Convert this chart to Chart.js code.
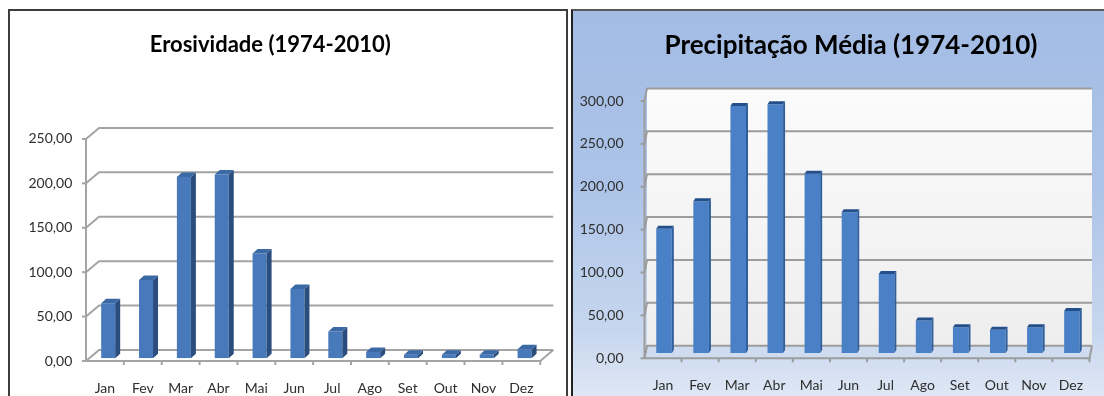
<!DOCTYPE html>
<html lang="pt">
<head>
<meta charset="utf-8">
<title>Erosividade e Precipitação Média (1974-2010)</title>
<script src="https://cdn.jsdelivr.net/npm/chart.js@4.4.1/dist/chart.umd.min.js"></script>
<style>
  html, body { margin: 0; padding: 0; background: #ffffff; }
  body { position: relative; width: 1104px; height: 396px; overflow: hidden; }
  #precBg {
    position: absolute; left: 571px; top: 9px; width: 533px; height: 400px;
    background: linear-gradient(180deg, #a3bce4 0%, #adc4e8 45%, #c6d6ee 80%, #e3eaf6 100%);
  }
  #erosChart { position: absolute; left: -3px; top: 11px; }
  #precChart { position: absolute; left: 573px; top: 11px; }
  .frame { position: absolute; pointer-events: none; z-index: 2; }
  #erosFrame { left: 8px; top: 9px; width: 556px; height: 400px; border: 2px solid #3c3c3c; border-bottom: none; }
  #precFrame { left: 571px; top: 9px; width: 531px; height: 400px; border-left: 2px solid #222222; border-top: 2px solid #5a5a5a; }
  canvas { display: block; }
</style>
</head>
<body>
<div id="precBg"></div>
<canvas id="erosChart" width="570" height="385"></canvas>
<canvas id="precChart" width="556" height="385"></canvas>
<div id="erosFrame" class="frame"></div>
<div id="precFrame" class="frame"></div>
<script>
// Meses do ano
const months = ['Jan', 'Fev', 'Mar', 'Abr', 'Mai', 'Jun', 'Jul', 'Ago', 'Set', 'Out', 'Nov', 'Dez'];

// Erosividade média mensal (1974-2010)
const erosividade = [62, 88, 204, 207, 118, 78, 30, 7, 4, 4, 4, 10];
const erosTickLabels = ['0,00', '50,00', '100,00', '150,00', '200,00', '250,00'];

// Precipitação média mensal (1974-2010)
const precipitacao = [145, 177, 288, 290, 209, 164, 92, 38, 30, 27, 30, 49];
const precTickLabels = ['0,00', '50,00', '100,00', '150,00', '200,00', '250,00', '300,00'];

const TICK_FONT = { family: 'Lato, "Open Sans", sans-serif', size: 14 };
const TICK_COLOR = '#2e2e2e';

// Pseudo-3D frame: back wall gridlines, floor and front axis, placed from the scales
const depthFrame = {
  id: 'depthFrame',
  beforeDatasetsDraw(chart, args, o) {
    const { ctx, chartArea: a, scales: { x, y } } = chart;
    const F = o.front, B = o.back;
    const y0 = y.getPixelForValue(y.min);
    const yTop = y.getPixelForValue(y.max);
    ctx.save();
    if (o.wallFill) {
      const g = ctx.createLinearGradient(0, yTop + B[1], 0, y0 + B[1]);
      g.addColorStop(0, o.wallFill[0]);
      g.addColorStop(1, o.wallFill[1]);
      ctx.fillStyle = g;
      ctx.fillRect(a.left + B[0], yTop + B[1], a.right - a.left, y0 - yTop);
    }
    if (o.floorFill) {
      ctx.fillStyle = o.floorFill;
      ctx.beginPath();
      ctx.moveTo(a.left + F[0], y0 + F[1]);
      ctx.lineTo(a.right + F[0], y0 + F[1]);
      ctx.lineTo(a.right + B[0], y0 + B[1]);
      ctx.lineTo(a.left + B[0], y0 + B[1]);
      ctx.closePath();
      ctx.fill();
    }
    ctx.strokeStyle = o.gridColor;
    ctx.lineWidth = o.gridWidth;
    ctx.lineJoin = 'round';
    y.ticks.forEach(t => {
      const py = y.getPixelForValue(t.value);
      ctx.beginPath();
      ctx.moveTo(a.left + F[0], py + F[1]);
      ctx.lineTo(a.left + B[0], py + B[1]);
      ctx.lineTo(a.right + B[0], py + B[1]);
      ctx.stroke();
      ctx.beginPath();
      ctx.moveTo(a.left + F[0] - o.tickLen, py + F[1]);
      ctx.lineTo(a.left + F[0], py + F[1]);
      ctx.stroke();
    });
    // front vertical axis
    ctx.beginPath();
    ctx.moveTo(a.left + F[0], y0 + F[1]);
    ctx.lineTo(a.left + F[0], yTop + F[1]);
    ctx.stroke();
    // floor front and right edges
    ctx.beginPath();
    ctx.moveTo(a.left + F[0], y0 + F[1]);
    ctx.lineTo(a.right + F[0], y0 + F[1]);
    ctx.lineTo(a.right + B[0], y0 + B[1]);
    ctx.stroke();
    // category separators on the floor front edge
    const n = chart.data.labels.length;
    const step = (a.right - a.left) / n;
    for (let i = 1; i <= n; i++) {
      const px = a.left + F[0] + i * step;
      ctx.beginPath();
      ctx.moveTo(px, y0 + F[1]);
      ctx.lineTo(px, y0 + F[1] + o.tickLen);
      ctx.stroke();
    }
    ctx.restore();
  }
};

// Side and top faces of the columns, extruded from each bar element
const columnDepth = {
  id: 'columnDepth',
  afterDatasetsDraw(chart, args, o) {
    const { ctx } = chart;
    const [ex, ey] = o.extrude;
    ctx.save();
    chart.getDatasetMeta(0).data.forEach(bar => {
      const { x, y, base, width } = bar.getProps(['x', 'y', 'base', 'width'], true);
      const l = x - width / 2, r = x + width / 2;
      ctx.fillStyle = o.sideColor;
      ctx.beginPath();
      ctx.moveTo(r, y);
      ctx.lineTo(r + ex, y + ey);
      ctx.lineTo(r + ex, base + ey);
      ctx.lineTo(r, base);
      ctx.closePath();
      ctx.fill();
      ctx.fillStyle = o.topColor;
      ctx.beginPath();
      ctx.moveTo(l, y);
      ctx.lineTo(r, y);
      ctx.lineTo(r + ex, y + ey);
      ctx.lineTo(l + ex, y + ey);
      ctx.closePath();
      ctx.fill();
    });
    ctx.restore();
  }
};

function buildChart(canvasId, cfg) {
  return new Chart(document.getElementById(canvasId), {
    type: 'bar',
    data: {
      labels: months,
      datasets: [{
        data: cfg.values,
        backgroundColor: cfg.barColor,
        borderWidth: 0,
        barPercentage: cfg.barPct,
        categoryPercentage: 1
      }]
    },
    options: {
      responsive: false,
      animation: false,
      devicePixelRatio: 1,
      layout: { padding: { left: 0, right: cfg.padRight, top: 0, bottom: 0 } },
      scales: {
        x: {
          grid: { display: false, drawTicks: false },
          border: { display: false },
          ticks: { font: TICK_FONT, color: TICK_COLOR, padding: cfg.xPad, labelOffset: cfg.front[0], maxRotation: 0 },
          afterFit: s => { s.height = cfg.xHeight; }
        },
        y: {
          min: 0, max: cfg.max,
          grid: { display: false, drawTicks: false },
          border: { display: false },
          ticks: {
            stepSize: 50, font: TICK_FONT, color: TICK_COLOR,
            padding: cfg.yPad, labelOffset: cfg.front[1],
            callback: (v, i) => cfg.tickLabels[i]
          },
          afterFit: s => { s.width = cfg.yWidth; }
        },
        // empty spacer on the right side, keeps the title centred over the panel
        spacer: {
          type: 'linear', position: 'right',
          display: cfg.spacer > 0,
          grid: { display: false, drawTicks: false },
          border: { display: false },
          ticks: { display: false },
          afterFit: s => { s.width = cfg.spacer; }
        }
      },
      plugins: {
        legend: { display: false },
        tooltip: { enabled: false },
        title: {
          display: true, text: cfg.title, color: '#000000',
          font: { family: 'Lato, "Open Sans", sans-serif', weight: 'bold', size: cfg.titleSize },
          padding: cfg.titlePad
        },
        depthFrame: {
          front: cfg.front, back: cfg.back, gridColor: cfg.gridColor, gridWidth: 2, tickLen: 4,
          wallFill: cfg.wallFill, floorFill: cfg.floorFill
        },
        columnDepth: { extrude: cfg.extrude, sideColor: cfg.sideColor, topColor: cfg.topColor }
      }
    },
    plugins: [depthFrame, columnDepth]
  });
}

buildChart('erosChart', {
  title: 'Erosividade (1974-2010)', titleSize: 22, titlePad: { top: 20.8, bottom: 78 },
  values: erosividade, tickLabels: erosTickLabels, max: 250,
  barColor: '#4879bb', sideColor: '#2a4d7e', topColor: '#3b69a6', barPct: 0.37,
  extrude: [5, -4.5],
  front: [-3.25, 2.75], back: [9.75, -8.25],
  gridColor: '#a4a4a4', wallFill: null, floorFill: null,
  padRight: 23.5, spacer: 0, yWidth: 92.25, yPad: 17, xHeight: 37.75, xPad: 22
});

buildChart('precChart', {
  title: 'Precipitação Média (1974-2010)', titleSize: 26, titlePad: { top: 18.9, bottom: 34.6 },
  values: precipitacao, tickLabels: precTickLabels, max: 300,
  barColor: '#4a80c6', sideColor: '#2f5e9c', topColor: '#234f8a', barPct: 0.42,
  extrude: [2, -3],
  front: [-1, 5.3], back: [1.5, -7.3],
  gridColor: '#9c9c9c', wallFill: ['#fbfbfb', '#eeeeee'], floorFill: '#cfdbef',
  padRight: 0, spacer: 38.5, yWidth: 72.5, yPad: 22, xHeight: 43, xPad: 24
});
</script>
</body>
</html>
